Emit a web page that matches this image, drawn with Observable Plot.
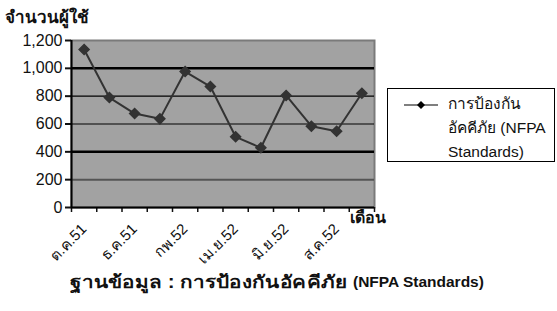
<!DOCTYPE html>
<html>
<head>
<meta charset="utf-8">
<script src="https://cdn.jsdelivr.net/npm/d3@7"></script>
<script src="https://cdn.jsdelivr.net/npm/@observablehq/plot@0.6"></script>
<style>
  html, body { margin: 0; padding: 0; background: #fff; }
  #wrap { position: relative; width: 557px; height: 311px; overflow: hidden;
          font-family: "Liberation Sans", Arial, "Noto Sans", sans-serif; color: #111; }
  #chart { position: absolute; left: 0; top: 0; }
  .ttl { position: absolute; font-weight: bold; white-space: nowrap; }
  .th { display: inline-block; transform-origin: left center; }
  #legend { position: absolute; left: 387px; top: 88px; width: 166px; height: 72px;
            border: 1px solid #000; background: #fff; font-size: 15.5px; }
  #legend svg { position: absolute; left: 14px; top: 8px; }
  #legend .txt { position: absolute; left: 60px; top: 3px; line-height: 24px; white-space: nowrap; }
</style>
</head>
<body>
<div id="wrap">
  <div id="chart"></div>
  <div class="ttl" style="left:5px; top:3px; font-size:17px;"><span class="th" id="ytitle"></span></div>
  <div class="ttl" style="left:350px; top:205px; font-size:16px;"><span class="th" id="xtitle"></span></div>
  <div id="legend">
    <svg width="40" height="16"><line x1="2" y1="8" x2="36" y2="8" stroke="#000" stroke-width="1.2"/><path d="M19,4 L23,8 L19,12 L15,8 Z" fill="#000"/></svg>
    <div class="txt" id="legtxt"></div>
  </div>
  <div class="ttl" style="left:70px; top:268px;"><span class="th" id="capTh" style="font-size:17.5px; transform:scaleX(1.18)"></span></div>
  <div class="ttl" style="left:353px; top:273px; font-size:15.5px;"><span id="capEn"></span></div>
</div>
<script>
const months = ["ต.ค.51","พ.ย.51","ธ.ค.51","ม.ค.52","กพ.52","มี.ค.52","เม.ย.52","พ.ค.52","มิ.ย.52","ก.ค.52","ส.ค.52","ก.ย.52"];
const users = [1135, 790, 675, 637, 977, 869, 508, 429, 805, 584, 548, 821];
const yTicks = [0, 200, 400, 600, 800, 1000, 1200];
const seriesName = ["การป้องกัน", "อัคคีภัย (NFPA", "Standards)"];
const yTitle = "จำนวนผู้ใช้";
const xTitle = "เดือน";
const captionTh = "ฐานข้อมูล : การป้องกันอัคคีภัย";
const captionEn = "(NFPA Standards)";

document.getElementById("ytitle").textContent = yTitle;
document.getElementById("xtitle").textContent = xTitle;
document.getElementById("capTh").textContent = captionTh;
document.getElementById("capEn").textContent = captionEn;
document.getElementById("legtxt").innerHTML = seriesName.join("<br>");

const data = months.map((m, i) => ({month: m, idx: i + 0.5, users: users[i]}));
const labelData = data.filter((d, i) => i % 2 === 0);
const grid = yTicks.filter(v => v > 0 && v < 1200);

const chart = Plot.plot({
  width: 557, height: 270,
  marginLeft: 71, marginRight: 183, marginTop: 40, marginBottom: 63,
  x: {domain: [0, months.length]},
  y: {domain: [0, 1200]},
  style: {fontFamily: '"Liberation Sans", Arial, "Noto Sans", sans-serif', fontSize: "15px", color: "#111", background: "transparent"},
  marks: [
    Plot.frame({fill: "#a2a2a2", stroke: "#7a7a7a", strokeWidth: 2}),
    Plot.ruleY(grid, {filter: v => v === 200, stroke: "#555", strokeWidth: 2}),
    Plot.ruleY(grid, {filter: v => v === 400 || v === 1000, stroke: "#000", strokeWidth: 2.5}),
    Plot.ruleY(grid, {filter: v => v === 600 || v === 800, stroke: "#000", strokeWidth: 1.2}),
    Plot.axisY({ticks: yTicks, tickSize: 6, tickPadding: 3, tickFormat: d3.format(","), label: null, fontSize: 16, strokeWidth: 2}),
    Plot.axisX({ticks: d3.range(months.length + 1), tickSize: 5, tickFormat: () => "", label: null, strokeWidth: 1.5}),
    Plot.text(labelData, {x: "idx", frameAnchor: "bottom", text: "month", rotate: -45, textAnchor: "end", lineAnchor: "middle", dx: 0, dy: 19, fontSize: 15}),
    Plot.ruleX([0], {stroke: "#000", strokeWidth: 2}),
    Plot.ruleY([0], {stroke: "#000", strokeWidth: 2}),
    Plot.line(data, {x: "idx", y: "users", stroke: "#333", strokeWidth: 2}),
    Plot.dot(data, {x: "idx", y: "users", symbol: "diamond2", r: 4.5, fill: "#333", stroke: "#333"})
  ]
});
document.getElementById("chart").appendChild(chart);
</script>
</body>
</html>
